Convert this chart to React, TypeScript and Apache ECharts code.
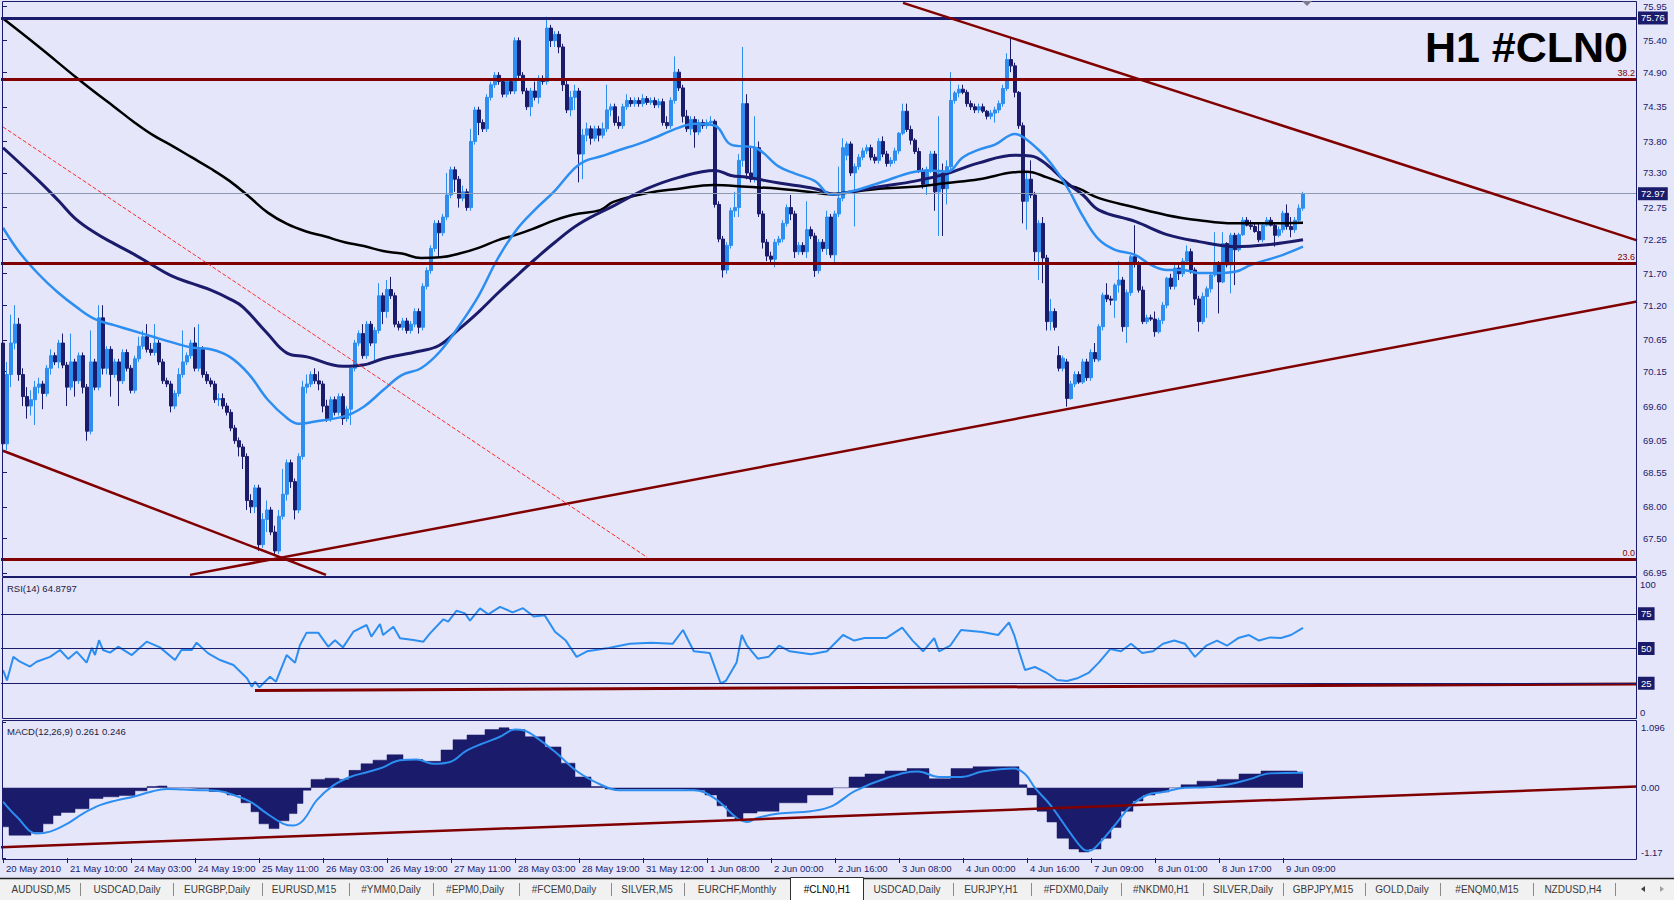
import React, { useEffect, useRef } from "react";
import * as echarts from "echarts";

// [open, close, low, high] per H1 bar
const candles = [
[70.6,69.0,68.9,71.1],[69.0,70.1,68.9,70.3],[70.1,70.6,69.9,71.05],[70.6,70.9,70.5,71.2],[70.9,70.1,70.0,71.0],
[70.1,69.75,69.6,70.2],[69.75,69.6,69.4,69.9],[69.6,69.7,69.45,69.85],[69.7,69.9,69.3,70.0],[69.9,69.95,69.8,70.05],
[69.95,69.8,69.55,70.0],[69.8,70.2,69.75,70.25],[70.2,70.4,70.1,70.5],[70.4,70.3,70.25,70.45],[70.3,70.6,70.2,70.65],
[70.6,70.25,70.2,70.75],[70.25,69.9,69.6,70.3],[69.9,70.3,69.85,70.75],[70.3,70.0,69.75,70.35],[70.0,70.4,69.95,70.45],
[70.4,69.9,69.8,70.45],[69.9,69.2,69.05,69.95],[69.2,70.3,69.15,70.8],[70.3,69.9,69.85,70.35],[69.9,71.0,69.85,71.2],
[71.0,70.2,70.1,71.2],[70.2,70.5,70.1,70.55],[70.5,70.1,69.75,70.55],[70.1,70.3,70.05,70.35],[70.3,70.0,69.6,70.35],
[70.0,70.45,69.95,70.5],[70.45,70.2,70.15,70.5],[70.2,69.85,69.8,70.25],[69.85,70.35,69.8,70.4],[70.35,70.55,70.3,70.7],
[70.55,70.7,70.5,70.8],[70.7,70.5,70.45,70.9],[70.5,70.45,70.4,70.6],[70.45,70.6,70.4,70.9],[70.6,70.3,70.25,70.65],
[70.3,70.0,69.95,70.35],[70.0,69.95,69.9,70.05],[69.95,69.6,69.5,70.0],[69.6,69.8,69.55,69.85],[69.8,70.1,69.75,70.2],
[70.1,70.3,70.05,70.8],[70.3,70.4,70.25,70.45],[70.4,70.6,70.35,70.65],[70.6,70.2,70.15,70.85],[70.2,70.5,70.15,70.9],
[70.5,70.1,70.05,70.55],[70.1,70.0,69.95,70.15],[70.0,69.95,69.9,70.05],[69.95,69.7,69.65,70.0],[69.7,69.72,69.6,69.8],
[69.72,69.6,69.55,69.8],[69.6,69.5,69.45,69.65],[69.5,69.25,69.2,69.55],[69.25,69.05,69.0,69.3],[69.05,68.95,68.8,69.1],
[68.95,68.8,68.6,69.0],[68.8,68.1,67.95,68.85],[68.1,68.0,67.9,68.2],[68.0,68.3,67.9,68.35],[68.3,67.4,67.3,68.35],
[67.4,67.8,67.35,67.9],[67.8,67.95,67.6,68.1],[67.95,67.6,67.55,68.0],[67.6,67.3,67.22,67.7],[67.3,67.85,67.25,67.95],
[67.85,68.2,67.8,68.6],[68.2,68.7,68.1,68.75],[68.7,68.4,68.3,68.75],[68.4,67.95,67.8,68.45],[67.95,68.8,67.9,68.85],
[68.8,69.9,68.75,70.0],[69.9,69.95,69.8,70.1],[69.95,70.1,69.9,70.15],[70.1,70.0,69.95,70.2],[70.0,69.95,69.85,70.15],
[69.95,69.6,69.5,70.0],[69.6,69.4,69.35,69.7],[69.4,69.7,69.35,69.75],[69.7,69.5,69.45,69.75],[69.5,69.75,69.45,69.8],
[69.75,69.4,69.3,69.8],[69.4,69.55,69.35,69.6],[69.55,70.2,69.3,70.25],[70.2,70.6,70.15,70.65],[70.6,70.75,70.55,70.8],
[70.75,70.4,70.35,70.9],[70.4,70.9,70.35,70.95],[70.9,70.6,70.55,70.95],[70.6,70.8,70.3,70.85],[70.8,71.35,70.75,71.55],
[71.35,71.1,70.9,71.4],[71.1,71.45,71.0,71.6],[71.45,71.35,71.3,71.65],[71.35,70.9,70.85,71.4],[70.9,70.85,70.8,70.95],
[70.85,70.95,70.8,71.0],[70.95,70.8,70.75,71.0],[70.8,70.9,70.75,70.95],[70.9,71.1,70.85,71.15],[71.1,70.85,70.75,71.15],
[70.85,71.5,70.8,71.55],[71.5,71.75,71.45,71.8],[71.75,72.1,71.7,72.15],[72.1,72.5,72.05,72.55],[72.5,72.35,71.95,72.55],
[72.35,72.6,72.3,72.65],[72.6,72.95,72.55,73.3],[72.95,73.35,72.9,73.4],[73.35,73.2,73.0,73.4],[73.2,72.9,72.75,73.25],
[72.9,73.0,72.85,73.1],[73.0,72.75,72.7,73.05],[72.75,73.8,72.7,74.0],[73.8,74.3,73.75,74.35],[74.3,74.1,73.9,74.35],
[74.1,74.0,73.95,74.15],[74.0,74.5,73.95,74.55],[74.5,74.7,74.45,74.75],[74.7,74.85,74.65,74.9],[74.85,74.75,74.7,74.9],
[74.75,74.55,74.5,74.8],[74.55,74.75,74.5,74.8],[74.75,74.6,74.55,74.8],[74.6,75.4,74.55,75.45],[75.4,74.85,74.8,75.45],
[74.85,74.6,74.55,74.9],[74.6,74.35,74.3,74.65],[74.35,74.6,74.2,74.65],[74.6,74.5,74.45,74.75],[74.5,74.8,74.4,74.85],
[74.8,74.75,74.7,74.85],[74.75,75.6,74.7,75.78],[75.6,75.4,75.3,75.65],[75.4,75.5,75.3,75.55],[75.5,75.3,75.2,75.55],
[75.3,74.7,74.6,75.35],[74.7,74.3,74.25,74.8],[74.3,74.5,74.2,74.6],[74.5,74.6,74.3,74.7],[74.6,73.6,73.15,74.65],
[73.6,73.9,73.2,74.0],[73.9,74.0,73.8,74.1],[74.0,73.85,73.75,74.05],[73.85,74.0,73.8,74.05],[74.0,73.9,73.8,74.05],
[73.9,74.0,73.85,74.1],[74.0,74.3,73.95,74.7],[74.3,74.35,74.2,74.4],[74.35,74.1,74.05,74.4],[74.1,74.05,74.0,74.2],
[74.05,74.35,74.0,74.4],[74.35,74.45,74.3,74.55],[74.45,74.4,74.35,74.5],[74.4,74.45,74.35,74.5],[74.45,74.4,74.35,74.5],
[74.4,74.48,74.35,74.55],[74.48,74.42,74.38,74.52],[74.42,74.45,74.38,74.5],[74.45,74.38,74.33,74.5],[74.38,74.43,74.33,74.48],
[74.43,74.1,74.05,74.48],[74.1,74.05,74.0,74.2],[74.05,74.45,74.0,74.5],[74.45,74.9,74.4,75.15],[74.9,74.65,74.6,74.95],
[74.65,74.2,74.1,74.7],[74.2,74.0,73.95,74.3],[74.0,74.15,73.9,74.2],[74.15,73.95,73.7,74.2],[73.95,74.1,73.9,74.15],
[74.1,74.05,74.0,74.15],[74.05,74.1,74.0,74.15],[74.1,74.12,74.05,74.2],[74.12,72.8,72.75,74.15],[72.8,72.25,72.2,72.85],
[72.25,71.76,71.64,72.3],[71.76,72.15,71.7,72.2],[72.15,72.7,72.1,72.75],[72.7,72.75,72.6,73.0],[72.75,73.5,72.6,73.6],
[73.5,74.4,73.4,75.3],[74.4,73.3,73.2,74.55],[73.3,73.2,73.15,73.7],[73.2,73.7,73.15,74.2],[73.7,72.65,72.6,73.8],
[72.65,72.2,72.1,72.7],[72.2,71.98,71.9,72.25],[71.98,71.93,71.85,72.05],[71.93,72.2,71.8,72.25],[72.2,72.25,72.15,72.3],
[72.25,72.5,72.2,72.55],[72.5,72.75,72.45,72.8],[72.75,72.65,72.55,72.95],[72.65,72.05,71.95,72.7],[72.05,72.15,72.0,72.2],
[72.15,72.05,72.0,72.2],[72.05,72.4,71.95,72.85],[72.4,72.3,72.25,72.45],[72.3,71.75,71.65,72.35],[71.75,72.2,71.7,72.25],
[72.2,72.1,72.05,72.25],[72.1,72.6,72.0,72.7],[72.6,72.0,71.95,72.65],[72.0,72.65,71.85,72.7],[72.65,72.9,72.6,73.4],
[72.9,73.7,72.85,73.85],[73.58,73.76,73.5,73.8],[73.76,73.3,73.25,73.8],[73.3,73.4,72.45,73.45],[73.4,73.55,73.35,73.6],
[73.55,73.65,73.5,73.7],[73.65,73.7,73.6,73.75],[73.7,73.55,73.5,73.75],[73.55,73.5,73.45,73.6],[73.5,73.8,73.45,73.85],
[73.8,73.6,73.55,73.88],[73.6,73.45,73.4,73.65],[73.45,73.5,73.4,73.55],[73.5,73.65,73.45,73.7],[73.65,73.93,73.6,73.95],
[73.93,74.28,73.9,74.4],[74.28,73.99,73.95,74.4],[73.99,73.82,73.75,74.05],[73.82,73.64,73.6,73.85],[73.64,73.34,73.3,73.7],
[73.34,73.12,73.05,73.38],[73.12,73.35,72.95,73.4],[73.35,73.6,73.3,73.65],[73.6,73.0,72.7,73.65],[73.0,73.3,72.3,74.2],
[73.3,73.05,72.3,73.45],[73.05,73.4,72.8,73.5],[73.4,74.45,73.35,74.9],[74.45,74.57,74.4,74.6],[74.57,74.63,74.5,74.7],
[74.63,74.58,74.55,74.7],[74.58,74.4,74.35,74.62],[74.4,74.35,74.3,74.45],[74.35,74.3,74.25,74.4],[74.3,74.35,74.25,74.4],
[74.35,74.28,74.25,74.4],[74.28,74.2,74.15,74.3],[74.2,74.25,74.15,74.3],[74.25,74.3,74.1,74.35],[74.3,74.4,74.25,74.45],
[74.4,74.64,74.35,74.7],[74.64,75.1,74.6,75.2],[75.1,75.0,74.9,75.45],[75.0,74.58,74.5,75.05],[74.58,74.05,74.0,74.6],
[74.05,72.85,72.5,74.1],[72.85,73.2,72.4,73.3],[73.2,72.95,72.9,73.5],[72.95,72.05,71.9,73.0],[72.05,72.5,71.6,72.55],
[72.5,71.95,71.55,72.6],[71.95,70.94,70.8,72.0],[70.94,71.1,70.8,71.3],[71.1,70.85,70.8,71.15],[70.4,70.2,70.15,70.55],
[70.2,70.36,70.15,70.4],[70.3,69.72,69.59,70.35],[69.72,69.95,69.7,70.0],[69.95,70.1,69.9,70.15],[70.1,69.98,69.95,70.15],
[69.98,70.3,69.95,70.35],[70.3,70.05,70.0,70.35],[70.05,70.45,70.0,70.5],[70.45,70.35,70.3,70.6],[70.33,70.86,70.3,70.9],
[70.86,71.36,70.8,71.4],[71.36,71.3,71.25,71.55],[71.3,71.28,71.2,71.35],[71.28,71.52,71.0,71.55],[71.52,71.6,71.4,71.9],
[71.6,70.86,70.78,71.65],[70.86,71.4,70.6,71.45],[71.4,71.97,71.35,72.0],[71.97,71.85,71.8,72.47],[71.85,71.44,71.4,71.9],
[71.44,70.94,70.9,71.5],[70.94,71.0,70.9,71.05],[71.0,70.98,70.95,71.05],[70.98,70.78,70.7,71.1],[70.78,70.96,70.75,71.0],
[70.96,71.2,70.9,71.25],[71.2,71.63,71.15,71.65],[71.63,71.5,71.45,71.7],[71.5,71.79,71.45,71.85],[71.79,71.7,71.6,71.85],
[71.7,71.9,71.65,71.95],[71.9,72.05,71.85,72.15],[72.05,71.76,71.7,72.1],[71.76,71.3,71.2,71.8],[71.3,70.94,70.78,71.35],
[70.94,71.34,70.9,71.4],[71.34,71.46,71.0,71.5],[71.46,71.68,71.4,71.7],[71.68,71.87,71.65,72.36],[71.87,71.57,71.07,71.9],
[71.57,72.18,71.55,72.36],[72.18,71.84,71.8,72.2],[71.84,72.31,71.39,72.35],[72.31,72.08,71.52,72.35],[72.08,72.32,72.05,72.35],
[72.32,72.55,72.3,72.6],[72.55,72.47,72.45,72.6],[72.47,72.45,72.4,72.55],[72.45,72.37,72.35,72.5],[72.37,72.24,72.2,72.5],
[72.24,72.47,72.2,72.5],[72.47,72.55,72.45,72.6],[72.55,72.47,72.45,72.6],[72.47,72.31,72.13,72.5],[72.31,72.4,72.28,72.45],
[72.4,72.66,72.35,72.7],[72.66,72.45,72.4,72.8],[72.45,72.4,72.28,72.6],[72.4,72.55,72.35,72.6],[72.55,72.74,72.5,72.8],
[72.74,72.97,72.7,73.0]
];

// moving averages read at sample bars: [bar, price]
const maFast = [[0,72.43],[4,72.05],[8.8,71.7],[13.6,71.41],[18.4,71.17],[23,70.98],[28,70.88],[32.7,70.79],[37.5,70.7],[42.3,70.61],[47.1,70.53],[51.9,70.5],[56.7,70.38],[61.4,70.11],[66.2,69.7],[71,69.41],[73.9,69.32],[77.7,69.35],[85.4,69.44],[90.2,69.59],[95,69.85],[99.7,70.09],[104.5,70.2],[109.3,70.47],[114.1,70.88],[118.9,71.35],[123.6,71.93],[128.4,72.4],[133.2,72.73],[138,73.02],[142.8,73.37],[145.6,73.49],[149.3,73.56],[153,73.64],[161,73.81],[169,74.02],[173,74.08],[178,74.05],[182,73.75],[188,73.7],[194,73.4],[198,73.29],[203,73.17],[207,72.96],[211,72.99],[219,73.14],[228,73.32],[232,73.34],[236,73.32],[240,73.55],[244,73.67],[248,73.75],[253,73.92],[255,73.87],[259,73.66],[262,73.45],[266,73.08],[270,72.61],[274,72.24],[278,72.08],[283,72.0],[287,71.84],[291,71.76],[295,71.76],[299,71.71],[303,71.71],[308,71.73],[312,71.84],[316,71.92],[320,72.0],[325,72.13]];
const maMid = [[0,73.7],[9,73.17],[14,72.85],[18,72.58],[23,72.35],[28,72.17],[33,72.0],[37,71.85],[42,71.67],[47,71.55],[52,71.44],[57,71.29],[60,71.17],[66,70.76],[71,70.44],[76,70.38],[85,70.23],[90,70.25],[95,70.35],[104,70.47],[109,70.56],[114,70.82],[119,71.1],[124,71.41],[129,71.7],[133,71.93],[138,72.2],[144,72.49],[153,72.79],[161,73.05],[169,73.23],[178,73.34],[182,73.26],[186,73.23],[194,73.14],[203,73.05],[208,72.96],[211,72.99],[219,73.08],[228,73.17],[236,73.29],[244,73.46],[253,73.58],[257,73.57],[261,73.43],[266,73.14],[270,72.95],[274,72.71],[283,72.53],[291,72.32],[299,72.21],[308,72.13],[316,72.16],[325,72.24]];
const maSlow = [[0,75.75],[8.8,75.31],[18.4,74.81],[23,74.58],[28,74.34],[32.7,74.11],[37.5,73.9],[42.3,73.73],[47.1,73.55],[51.9,73.37],[56.7,73.17],[61.4,72.93],[66.2,72.67],[71,72.49],[75.8,72.37],[80.6,72.29],[85.4,72.2],[90.2,72.14],[95,72.06],[99.7,72.02],[104.5,71.95],[109.3,71.96],[114.1,72.02],[118.9,72.11],[123.6,72.23],[128.4,72.32],[133.2,72.43],[138,72.55],[142.8,72.64],[149.3,72.71],[152.6,72.84],[161,72.98],[169,73.05],[177.6,73.11],[186,73.08],[194,73.05],[202.6,72.99],[206.75,72.96],[211,72.99],[219,73.05],[227.6,73.08],[236,73.14],[244,73.2],[252.6,73.31],[256,73.32],[261,73.23],[266,73.11],[269,73.05],[274,72.9],[282.6,72.76],[291,72.63],[299,72.55],[307.6,72.5],[316,72.5],[325,72.51]];

const rsi = [[0,34.5],[1,27],[2.6,44],[4.25,40.5],[6.75,37],[8.4,40.5],[11.75,44],[14.25,48.9],[16.3,42.5],[18.4,47.7],[20.9,39.8],[22.2,50.4],[23,45.3],[24,56],[25,48.9],[26.75,47],[28.8,51.3],[32.2,45.3],[35.9,54.9],[39.25,50.8],[43,41.7],[44.6,48.9],[47.2,48.9],[48.4,54.2],[51.3,46.5],[54.25,41.7],[57.6,38.1],[61,28.6],[62.2,22.5],[63,26.1],[64.1,22.1],[66.75,29.7],[68.25,26.1],[70.9,45.3],[73,39.8],[74.25,52.5],[75.9,61.4],[78.8,61.4],[81.3,51.3],[83,56],[85,50.8],[87.6,62.1],[90.9,66.9],[92.1,58.5],[94.25,67.6],[95,59.7],[97.6,65.7],[99.25,57.3],[102.6,56.1],[105.1,54.9],[106.75,60.9],[110.1,71],[111.3,69.3],[113.4,77.2],[115.5,75.3],[116.75,70],[119.25,78.9],[121.3,74.6],[124.25,80],[127.4,76],[130,79],[132.7,73],[135.4,74],[138,62],[140.7,55.7],[143.4,44],[146,48],[151.4,50.4],[156.7,53.4],[162,54.2],[167.4,53.4],[170,63.3],[172.7,48],[176.7,46.7],[179.4,25],[180.7,26.6],[183.4,40],[184.7,59.7],[186,52],[188.7,42.7],[191.4,44],[194,52],[196.7,48],[202,45.8],[206,48],[210,59.7],[212.8,55.7],[215.4,57.5],[220.8,57.5],[224.8,65],[227.4,55.7],[230,48],[232.8,57.5],[234,48],[236.8,52],[239.5,63.3],[244.8,61.9],[248.8,59.7],[251.5,68.8],[252.8,59.7],[254,48],[255.5,34.5],[258,36.7],[260.8,32.7],[263.5,27.3],[266,26.6],[268.8,28.8],[271.5,32.7],[274,40],[276.8,49.6],[279.5,48],[282,53.4],[284.8,46.7],[287.5,48],[290,53.4],[292.8,55.7],[295.5,53.4],[298,44],[300.8,52],[303.5,55.7],[306,52],[308.8,57.5],[311.5,59.7],[314,55.7],[316.8,58],[319.5,57.5],[322,59.7],[325,64.88]];

const macdHist = [[0,-0.65],[3,-0.79],[6,-0.79],[8,-0.74],[12,-0.6],[13,-0.46],[16,-0.41],[20,-0.35],[23,-0.18],[27,-0.15],[31,-0.13],[35,-0.05],[37,0.02],[39,0.03],[43,0.0],[49,-0.01],[54,-0.06],[58,-0.12],[61,-0.25],[63,-0.4],[65,-0.6],[68,-0.68],[70,-0.55],[73,-0.43],[74,-0.26],[76,-0.04],[78,0.14],[83,0.16],[85,0.14],[88,0.29],[91,0.4],[94,0.46],[98,0.55],[102,0.47],[108,0.44],[111,0.63],[114,0.8],[118,0.88],[123,0.97],[125,1.0],[128,0.97],[133,0.85],[138,0.68],[141,0.41],[145,0.18],[149,0.02],[152,-0.02],[160,-0.02],[168,-0.02],[172,-0.03],[174,-0.04],[177,-0.12],[180,-0.3],[182,-0.48],[184,-0.53],[186,-0.42],[191,-0.39],[197,-0.25],[205,-0.12],[210,0.0],[213,0.18],[218,0.23],[223,0.28],[229,0.32],[234,0.15],[240,0.32],[245,0.35],[253,0.35],[255,0.05],[257,-0.12],[260,-0.39],[262,-0.57],[265,-0.84],[268,-1.02],[270,-1.07],[273,-1.02],[276,-0.84],[278,-0.66],[281,-0.39],[284,-0.22],[286,-0.12],[290,-0.07],[293,0.0],[296,0.05],[301,0.11],[306,0.14],[312,0.23],[317,0.28],[322,0.28],[325,0.26]];
const macdSignal = [[0,-0.23],[3.4,-0.48],[8.4,-0.76],[11.75,-0.73],[16,-0.6],[20,-0.43],[24.25,-0.29],[28.4,-0.21],[32.6,-0.15],[36.75,-0.07],[41,-0.02],[45,-0.03],[49.25,-0.04],[53.4,-0.05],[57.6,-0.12],[61.75,-0.23],[66,-0.43],[70.1,-0.6],[72.6,-0.63],[75.1,-0.54],[78.4,-0.21],[82.6,0.04],[86.75,0.18],[91,0.26],[95,0.34],[99.25,0.46],[103.4,0.47],[107.6,0.4],[111.75,0.43],[115.9,0.62],[120,0.74],[124.25,0.85],[128,0.97],[130.5,0.95],[132.7,0.87],[138,0.6],[143.4,0.28],[149.5,0.05],[154,-0.04],[165,-0.04],[172.7,-0.04],[178,-0.18],[183.4,-0.5],[186,-0.57],[188.7,-0.5],[194,-0.43],[202,-0.39],[207.4,-0.3],[212.8,-0.06],[220.8,0.16],[228.8,0.27],[234,0.18],[239.5,0.18],[244.8,0.27],[252.8,0.32],[255.5,0.23],[258,0.0],[262,-0.3],[266.8,-0.75],[270,-1.02],[271.5,-1.05],[274,-0.93],[278,-0.62],[282,-0.3],[286,-0.12],[290,-0.07],[295.5,0.0],[300.8,0.01],[306,0.05],[311.5,0.14],[316.8,0.24],[325,0.25]];

const timeLabels = ["20 May 2010","21 May 10:00","24 May 03:00","24 May 19:00","25 May 11:00","26 May 03:00","26 May 19:00","27 May 11:00","28 May 03:00","28 May 19:00","31 May 12:00","1 Jun 08:00","2 Jun 00:00","2 Jun 16:00","3 Jun 08:00","4 Jun 00:00","4 Jun 16:00","7 Jun 09:00","8 Jun 01:00","8 Jun 17:00","9 Jun 09:00"];
const priceTicks = [66.95,67.50,68.00,68.55,69.05,69.60,70.15,70.65,71.20,71.70,72.25,72.75,73.30,73.80,74.35,74.90,75.40,75.95];
const rsiTicks = [0, 100];
const rsiLevels = [25, 50, 75];
const macdTicks = [-1.17, 0, 1.096];
const macdTickLabels = ["-1.17", "0.00", "1.096"];
const fibLevels = [67.16, 71.87, 74.78];
const fibNames = ["0.0", "23.6", "38.2"];
const resistanceLevel = 75.76;
const lastPrice = 72.97;
const trendTop = [[225, 76.0], [408.5, 72.23]];
const trendRise = [[46.75, 66.92], [408.5, 71.26]];
const trendFall = [[0, 68.89], [80.75, 66.92]];
const trendDashed = [[0, 74.03], [161, 67.2]];
const rsiSupport = [[63, 19.8], [408.5, 24.5]];
const macdSupport = [[-0.5, -0.99], [408.5, 0.02]];
const title = "H1 #CLN0";
const rsiTitle = "RSI(14) 64.8797";
const macdTitle = "MACD(12,26,9) 0.261 0.246";
const tabNames = ["AUDUSD,M5","USDCAD,Daily","EURGBP,Daily","EURUSD,M15","#YMM0,Daily","#EPM0,Daily","#FCEM0,Daily","SILVER,M5","EURCHF,Monthly","#CLN0,H1","USDCAD,Daily","EURJPY,H1","#FDXM0,Daily","#NKDM0,H1","SILVER,Daily","GBPJPY,M15","GOLD,Daily","#ENQM0,M15","NZDUSD,H4"];
const activeTab = 9;

// layout (pixels)
const tabCenters = [41,127,217,304,391,475,564,647,737,827,907,991,1076,1161,1243,1323,1402,1487,1573];
const tabSeparators = [80,173,262,349,433,519,611,684,953,1031,1121,1203,1283,1365,1440,1533,1615];
const SLOTS = 409;

const BG = "#E6E6FA";
const NAVY = "#1b1b6b";
const BLUE = "#2b8ef0";
const MAROON = "#800000";
const FONT = '"Liberation Sans", Arial, sans-serif';

export default function App() {
  const ref = useRef<HTMLDivElement>(null);
  useEffect(() => {
    document.body.style.margin = "0";
    document.body.style.overflow = "hidden";
    if (!ref.current) return;
    const chart = echarts.init(ref.current, undefined, { renderer: "svg", width: 1674, height: 900 });
    const cats = Array.from({ length: SLOTS }, (_, i) => String(i));
    const hx = (g: number) => ({ type: "value", gridIndex: g, min: -0.5, max: SLOTS - 0.5, show: false });
    const tickInt = (i: number) => i % 16 === 0 && i / 16 < timeLabels.length;
    const axisFont = { color: NAVY, fontSize: 9.5, fontFamily: FONT };
    const trend = (data: number[][], color: string, width: number, type: string = "solid") => ({
      type: "line", xAxisIndex: 1, yAxisIndex: 0, data, showSymbol: false, silent: true,
      lineStyle: { color, width, type }, z: 5,
    });
    const hLine = (y: number, color: string, width: number, label: any) => ({
      yAxis: y, lineStyle: { color, width, type: "solid" }, label,
    });
    const tag = (text: string) => ({
      show: true, position: "end", distance: 1, formatter: text,
      backgroundColor: NAVY, color: "#ffffff", padding: [2, 3, 1, 3], fontSize: 9.5, fontFamily: FONT,
    });

    const graphics: any[] = [
      { type: "rect", shape: { x: 2.5, y: 1.5, width: 1634, height: 575 }, style: { fill: "none", stroke: NAVY, lineWidth: 1 }, z: 50, silent: true },
      { type: "rect", shape: { x: 2.5, y: 577.5, width: 1634, height: 141 }, style: { fill: "none", stroke: NAVY, lineWidth: 1 }, z: 50, silent: true },
      { type: "rect", shape: { x: 2.5, y: 720.5, width: 1634, height: 139 }, style: { fill: "none", stroke: NAVY, lineWidth: 1 }, z: 50, silent: true },
      { type: "polygon", shape: { points: [[1302, 1], [1312, 1], [1307, 6]] }, style: { fill: "#7c7c8c" }, z: 60, silent: true },
      { type: "text", x: 1628, y: 47, z: 60, silent: true,
        style: { text: title, fill: "#000000", font: 'bold 43px "Liberation Sans", Arial, sans-serif', align: "right", verticalAlign: "middle", textAlign: "right", textVerticalAlign: "middle" } },
      { type: "text", x: 7, y: 588, z: 60, silent: true,
        style: { text: rsiTitle, fill: "#1a1a40", font: '9.5px "Liberation Sans", Arial, sans-serif', align: "left", verticalAlign: "middle", textAlign: "left", textVerticalAlign: "middle" } },
      { type: "text", x: 7, y: 731, z: 60, silent: true,
        style: { text: macdTitle, fill: "#1a1a40", font: '9.5px "Liberation Sans", Arial, sans-serif', align: "left", verticalAlign: "middle", textAlign: "left", textVerticalAlign: "middle" } },
      { type: "rect", shape: { x: 0, y: 878, width: 1674, height: 22 }, style: { fill: "#f1f1f1" }, z: 40, silent: true },
      { type: "line", shape: { x1: 0, y1: 878.5, x2: 1674, y2: 878.5 }, style: { stroke: "#202020", lineWidth: 1.5 }, z: 41, silent: true },
      { type: "rect", shape: { x: 790.5, y: 877.5, width: 73, height: 23 }, style: { fill: "#ffffff", stroke: "#303030", lineWidth: 1 }, z: 42, silent: true },
      { type: "polygon", shape: { points: [[1645, 886], [1645, 892], [1641, 889]] }, style: { fill: "#404040" }, z: 43, silent: true },
      { type: "polygon", shape: { points: [[1660, 886], [1660, 892], [1664, 889]] }, style: { fill: "#a0a0a0" }, z: 43, silent: true },
    ];
    tabSeparators.forEach((x) => {
      graphics.push({ type: "line", shape: { x1: x + 0.5, y1: 883, x2: x + 0.5, y2: 896 }, style: { stroke: "#8a8a8a", lineWidth: 1 }, z: 43, silent: true });
    });
    tabNames.forEach((name, i) => {
      graphics.push({ type: "text", x: tabCenters[i], y: 889.5, z: 44, silent: true,
        style: { text: name, fill: i === activeTab ? "#000000" : "#3a3a3a", font: '10px "Liberation Sans", Arial, sans-serif', align: "center", verticalAlign: "middle", textAlign: "center", textVerticalAlign: "middle" } });
    });

    const option: any = {
      animation: false,
      backgroundColor: BG,
      tooltip: { show: false },
      grid: [
        { left: 1, top: 2, width: 1636, height: 574 },
        { left: 1, top: 579, width: 1636, height: 139 },
        { left: 1, top: 722, width: 1636, height: 136 },
      ],
      xAxis: [
        { type: "category", gridIndex: 0, data: cats, show: false, boundaryGap: true },
        hx(0), hx(1), hx(2),
        { type: "category", gridIndex: 2, data: cats, boundaryGap: true, position: "bottom",
          axisLine: { show: false }, splitLine: { show: false },
          axisTick: { show: true, interval: tickInt, alignWithLabel: true, length: 5, lineStyle: { color: NAVY } },
          axisLabel: { interval: tickInt, formatter: (_v: string, i: number) => timeLabels[i / 16] || "", align: "left", margin: 5, color: NAVY, fontSize: 9.5, fontFamily: FONT, padding: [0, 0, 0, 3] } },
      ],
      yAxis: [
        { type: "value", gridIndex: 0, min: 66.902, max: 76.0135, position: "right",
          axisLine: { show: false }, splitLine: { show: false },
          axisTick: { show: true, customValues: priceTicks, length: 4, lineStyle: { color: NAVY } },
          axisLabel: { customValues: priceTicks, formatter: (v: number) => v.toFixed(2), margin: 6, ...axisFont } },
        { type: "value", gridIndex: 1, min: 0, max: 100, position: "right",
          axisLine: { show: false }, splitLine: { show: false }, axisTick: { show: false },
          axisLabel: { customValues: rsiTicks, margin: 3, ...axisFont,
            formatter: (v: number) => (v === 100 ? "{t|100}" : "{b|0}"),
            rich: { t: { padding: [11, 0, 0, 0], ...axisFont }, b: { padding: [0, 0, 11, 0], ...axisFont } } } },
        { type: "value", gridIndex: 2, min: -1.17, max: 1.096, position: "right",
          axisLine: { show: false }, splitLine: { show: false },
          axisTick: { show: true, customValues: macdTicks, length: 3, lineStyle: { color: NAVY } },
          axisLabel: { customValues: macdTicks, margin: 4, ...axisFont,
            formatter: (v: number) => {
              const i = macdTicks.findIndex((t) => Math.abs(t - v) < 1e-6);
              const s = i >= 0 ? macdTickLabels[i] : "";
              return i === 0 ? "{b|" + s + "}" : i === 2 ? "{t|" + s + "}" : s;
            },
            rich: { t: { padding: [11, 0, 0, 0], ...axisFont }, b: { padding: [0, 0, 11, 0], ...axisFont } } } },
      ],
      series: [
        { type: "candlestick", xAxisIndex: 0, yAxisIndex: 0, data: candles, barWidth: 3, silent: true,
          itemStyle: { color: BLUE, color0: NAVY, borderColor: BLUE, borderColor0: NAVY, borderWidth: 1 } },
        { type: "line", xAxisIndex: 1, yAxisIndex: 0, data: maSlow, smooth: 0.4, showSymbol: false, silent: true, lineStyle: { color: "#000000", width: 2.5 }, z: 4 },
        { type: "line", xAxisIndex: 1, yAxisIndex: 0, data: maMid, smooth: 0.4, showSymbol: false, silent: true, lineStyle: { color: NAVY, width: 3 }, z: 4 },
        { type: "line", xAxisIndex: 1, yAxisIndex: 0, data: maFast, smooth: 0.4, showSymbol: false, silent: true, lineStyle: { color: BLUE, width: 2.5 }, z: 4 },
        {
          ...trend(trendTop, MAROON, 2.5),
          markLine: {
            symbol: ["none", "none"], silent: true, animation: false,
            data: [
              hLine(resistanceLevel, NAVY, 3, tag(resistanceLevel.toFixed(2))),
              hLine(lastPrice, "#8c9ab0", 1, tag(lastPrice.toFixed(2))),
              ...fibLevels.map((lv, i) => hLine(lv, MAROON, 3, {
                show: true, position: "insideEndTop", distance: 2, formatter: fibNames[i],
                color: MAROON, fontSize: 9, fontFamily: FONT,
              })),
            ],
          },
        },
        trend(trendRise, MAROON, 2.5),
        trend(trendFall, MAROON, 2.5),
        trend(trendDashed, "#ff2a2a", 1, "dashed"),
        { type: "line", xAxisIndex: 2, yAxisIndex: 1, data: rsi, showSymbol: false, silent: true,
          lineStyle: { color: BLUE, width: 2 },
          markLine: { symbol: ["none", "none"], silent: true, animation: false,
            data: rsiLevels.map((lv) => hLine(lv, NAVY, 1, tag(String(lv)))) } },
        { type: "line", xAxisIndex: 2, yAxisIndex: 1, data: rsiSupport, showSymbol: false, silent: true, lineStyle: { color: MAROON, width: 3 } },
        { type: "line", xAxisIndex: 3, yAxisIndex: 2, data: macdHist, step: "middle", showSymbol: false, silent: true,
          lineStyle: { color: NAVY, width: 0.5 }, areaStyle: { color: NAVY, opacity: 1, origin: 0 } },
        { type: "line", xAxisIndex: 3, yAxisIndex: 2, data: macdSignal, smooth: 0.4, showSymbol: false, silent: true, lineStyle: { color: BLUE, width: 2 } },
        { type: "line", xAxisIndex: 3, yAxisIndex: 2, data: macdSupport, showSymbol: false, silent: true, lineStyle: { color: MAROON, width: 2.5 } },
      ],
      graphic: graphics,
    };
    chart.setOption(option);
    return () => chart.dispose();
  }, []);
  return (
    <div style={{ position: "fixed", left: 0, top: 0, width: 1674, height: 900, overflow: "hidden" }}>
      <div ref={ref} style={{ position: "absolute", left: 0, top: 0, width: 1674, height: 900 }} />
    </div>
  );
}
